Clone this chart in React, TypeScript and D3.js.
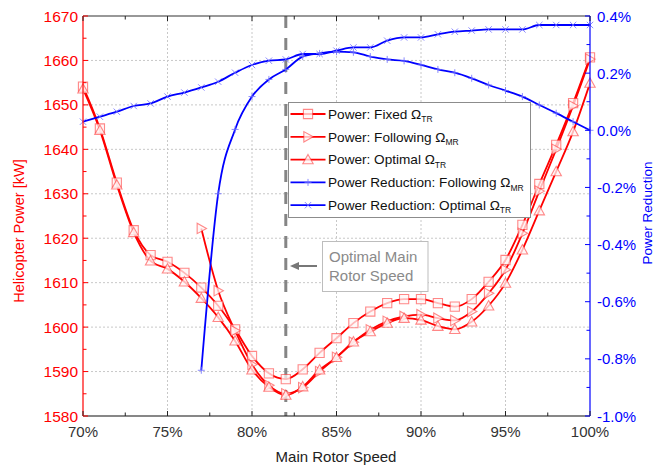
import React from 'react';
import * as d3 from 'd3';

const speeds = [70, 71, 72, 73, 74, 75, 76, 77, 78, 79, 80, 81, 82, 83, 84, 85, 86, 87, 88, 89, 90, 91, 92, 93, 94, 95, 96, 97, 98, 99, 100];

const powerFixed = [1654.1, 1644.7, 1632.5, 1621.8, 1616.2, 1614.7, 1612.2, 1608.9, 1604.8, 1599.5, 1593.5, 1589.6, 1588.3, 1590.5, 1594.2, 1597.5, 1600.9, 1603.5, 1605.4, 1606.3, 1606.3, 1605.4, 1604.6, 1606.3, 1610.2, 1615.1, 1623.0, 1632.2, 1641.0, 1650.4, 1660.7];

const powerFollowing: (number | null)[] = [null, null, null, null, null, null, null, 1622.2, 1608.2, 1599.2, 1591.6, 1586.9, 1585.0, 1586.4, 1590.0, 1593.2, 1596.6, 1599.4, 1601.3, 1602.4, 1602.8, 1602.0, 1601.5, 1603.5, 1607.6, 1612.9, 1621.1, 1630.6, 1640.0, 1649.8, 1660.3];

const powerOptimal = [1653.6, 1644.3, 1632.0, 1621.3, 1614.9, 1613.1, 1610.2, 1606.5, 1602.2, 1596.9, 1590.4, 1586.5, 1584.7, 1586.6, 1590.4, 1593.2, 1596.7, 1599.0, 1600.9, 1602.0, 1601.6, 1600.2, 1599.5, 1601.2, 1604.8, 1609.9, 1617.4, 1626.2, 1635.0, 1644.0, 1654.9];

const reductionFollowing: (number | null)[] = [null, null, null, null, null, null, null, -0.84, -0.222, 0.003, 0.118, 0.178, 0.213, 0.258, 0.269, 0.275, 0.273, 0.258, 0.248, 0.243, 0.229, 0.213, 0.2015, 0.182, 0.1585, 0.139, 0.118, 0.0885, 0.06, 0.03, 0.0];

const reductionOptimal = [0.03, 0.0475, 0.065, 0.085, 0.094, 0.118, 0.132, 0.15, 0.17, 0.2015, 0.2285, 0.2435, 0.248, 0.267, 0.267, 0.2786, 0.29, 0.29, 0.3136, 0.325, 0.325, 0.336, 0.345, 0.349, 0.353, 0.353, 0.353, 0.3685, 0.3685, 0.3685, 0.3685];

const xTicks = [70, 75, 80, 85, 90, 95, 100];
const xMinorTicks = [72.5, 77.5, 82.5, 87.5, 92.5, 97.5];
const leftTicks = [1580, 1590, 1600, 1610, 1620, 1630, 1640, 1650, 1660, 1670];
const leftMinorTicks = [1585, 1595, 1605, 1615, 1625, 1635, 1645, 1655, 1665];
const rightTicks = [-1.0, -0.8, -0.6, -0.4, -0.2, 0.0, 0.2, 0.4];
const rightMinorTicks = [-0.9, -0.7, -0.5, -0.3, -0.1, 0.1, 0.3];
const optimalSpeed = 82;

const FONT = '"Liberation Sans", Arial, sans-serif';
const RED = '#ff0000';
const BLUE = '#0000ff';
const MRED = 'rgba(255,40,40,0.55)';
const MFILL = 'rgba(255,245,245,0.75)';
const MBLUE = 'rgba(110,110,255,0.8)';

type Shape = 'square' | 'right' | 'up' | 'plus' | 'cross';

function markerPath(shape: Shape, cx: number, cy: number): string {
  const p = d3.path();
  if (shape === 'square') {
    const s = 4.6;
    p.rect(cx - s, cy - s, 2 * s, 2 * s);
  } else if (shape === 'up') {
    const s = 5.2;
    p.moveTo(cx, cy - s);
    p.lineTo(cx + s, cy + s * 0.8);
    p.lineTo(cx - s, cy + s * 0.8);
    p.closePath();
  } else if (shape === 'right') {
    const s = 5.2;
    p.moveTo(cx + s, cy);
    p.lineTo(cx - s * 0.8, cy - s);
    p.lineTo(cx - s * 0.8, cy + s);
    p.closePath();
  } else if (shape === 'plus') {
    const s = 3.5;
    p.moveTo(cx - s, cy);
    p.lineTo(cx + s, cy);
    p.moveTo(cx, cy - s);
    p.lineTo(cx, cy + s);
  } else {
    const s = 3.2;
    p.moveTo(cx - s, cy - s);
    p.lineTo(cx + s, cy + s);
    p.moveTo(cx - s, cy + s);
    p.lineTo(cx + s, cy - s);
  }
  return p.toString();
}

function markerProps(shape: Shape) {
  if (shape === 'plus' || shape === 'cross') {
    return { fill: 'none', stroke: MBLUE, strokeWidth: 1 };
  }
  return { fill: MFILL, stroke: MRED, strokeWidth: 1.1 };
}

export default function App() {
  const W = 657;
  const H = 470;
  const x0 = 83, x1 = 590, y0 = 16, y1 = 416;

  const x = d3.scaleLinear().domain([70, 100]).range([x0, x1]);
  const yL = d3.scaleLinear().domain([1580, 1670]).range([y1, y0]);
  const yR = d3.scaleLinear().domain([-1.0, 0.4]).range([y1, y0]);

  const mkLine = (vals: (number | null)[], sc: d3.ScaleLinear<number, number>) =>
    d3
      .line<number>()
      .defined((_, i) => vals[i] !== null)
      .x((d) => x(d))
      .y((_, i) => sc(vals[i] as number))
      .curve(d3.curveMonotoneX)(speeds) || '';

  const series: { vals: (number | null)[]; sc: any; color: string; shape: Shape }[] = [
    { vals: powerFixed, sc: yL, color: RED, shape: 'square' },
    { vals: powerFollowing, sc: yL, color: RED, shape: 'right' },
    { vals: powerOptimal, sc: yL, color: RED, shape: 'up' },
    { vals: reductionFollowing, sc: yR, color: BLUE, shape: 'plus' },
    { vals: reductionOptimal, sc: yR, color: BLUE, shape: 'cross' },
  ];

  const legendItems: { label: string; sub: string; color: string; shape: Shape }[] = [
    { label: 'Power: Fixed Ω', sub: 'TR', color: RED, shape: 'square' },
    { label: 'Power: Following Ω', sub: 'MR', color: RED, shape: 'right' },
    { label: 'Power: Optimal Ω', sub: 'TR', color: RED, shape: 'up' },
    { label: 'Power Reduction: Following Ω', sub: 'MR', color: BLUE, shape: 'plus' },
    { label: 'Power Reduction: Optimal Ω', sub: 'TR', color: BLUE, shape: 'cross' },
  ];

  const lgX = 288.5, lgY = 102.5, lgW = 242, lgH = 115, lgRow = 22.8;

  return (
    <svg
      width={W}
      height={H}
      style={{ position: 'absolute', left: 0, top: 0, background: '#fff' }}
      fontFamily={FONT}
    >
      <rect x={0} y={0} width={W} height={H} fill="#fff" />
      {/* grid */}
      <g stroke="#c8c8c8" strokeWidth={1} strokeDasharray="2,2">
        {xTicks.filter((t) => t > 70 && t < 100).map((t) => (
          <line key={'gx' + t} x1={x(t)} x2={x(t)} y1={y0} y2={y1} />
        ))}
        {leftTicks.filter((t) => t > 1580 && t < 1670).map((t) => (
          <line key={'gy' + t} x1={x0} x2={x1} y1={yL(t)} y2={yL(t)} />
        ))}
      </g>

      {/* optimal speed dashed line */}
      <line
        x1={x(optimalSpeed)}
        x2={x(optimalSpeed)}
        y1={y0}
        y2={y1}
        stroke="#858585"
        strokeWidth={3}
        strokeDasharray="12,10"
      />

      {/* series lines */}
      {series.map((s, i) => (
        <path key={'l' + i} d={mkLine(s.vals, s.sc)} fill="none" stroke={s.color} strokeWidth={1.8} />
      ))}
      {/* markers */}
      {series.map((s, i) => (
        <g key={'m' + i}>
          {speeds.map((sp, j) =>
            s.vals[j] === null ? null : (
              <path key={j} d={markerPath(s.shape, x(sp), s.sc(s.vals[j] as number))} {...markerProps(s.shape)} />
            )
          )}
        </g>
      ))}

      {/* axes frame */}
      <line x1={x0} x2={x1} y1={y0} y2={y0} stroke="#333" strokeWidth={1.2} />
      <line x1={x0} x2={x1} y1={y1} y2={y1} stroke="#111" strokeWidth={1.2} />
      <line x1={x0} x2={x0} y1={y0} y2={y1} stroke={RED} strokeWidth={1.2} />
      <line x1={x1} x2={x1} y1={y0} y2={y1} stroke={BLUE} strokeWidth={1.2} />

      {/* x ticks */}
      <g stroke="#222" strokeWidth={1}>
        {xTicks.map((t) => (
          <g key={'xt' + t}>
            <line x1={x(t)} x2={x(t)} y1={y1} y2={y1 - 5} />
            <line x1={x(t)} x2={x(t)} y1={y0} y2={y0 + 5} />
          </g>
        ))}
        {xMinorTicks.map((t) => (
          <g key={'xm' + t}>
            <line x1={x(t)} x2={x(t)} y1={y1} y2={y1 - 3.5} />
            <line x1={x(t)} x2={x(t)} y1={y0} y2={y0 + 3.5} />
          </g>
        ))}
      </g>
      <g fill="#333" fontSize={15} textAnchor="middle">
        {xTicks.map((t) => (
          <text key={'xl' + t} x={x(t)} y={437}>
            {t + '%'}
          </text>
        ))}
      </g>
      <text x={336} y={462} fontSize={15} fill="#222" textAnchor="middle">
        Main Rotor Speed
      </text>

      {/* left axis */}
      <g stroke={RED} strokeWidth={1}>
        {leftTicks.map((t) => (
          <line key={'lt' + t} x1={x0} x2={x0 + 5} y1={yL(t)} y2={yL(t)} />
        ))}
        {leftMinorTicks.map((t) => (
          <line key={'lm' + t} x1={x0} x2={x0 + 3.5} y1={yL(t)} y2={yL(t)} />
        ))}
      </g>
      <g fill={RED} fontSize={15.5} textAnchor="end">
        {leftTicks.map((t) => (
          <text key={'ll' + t} x={78} y={yL(t) + 5.5}>
            {t}
          </text>
        ))}
      </g>
      <text
        transform={`translate(24,231) rotate(-90)`}
        fontSize={14.5}
        fill={RED}
        textAnchor="middle"
      >
        Helicopter Power [kW]
      </text>

      {/* right axis */}
      <g stroke={BLUE} strokeWidth={1}>
        {rightTicks.map((t) => (
          <line key={'rt' + t} x1={x1} x2={x1 - 5} y1={yR(t)} y2={yR(t)} />
        ))}
        {rightMinorTicks.map((t) => (
          <line key={'rm' + t} x1={x1} x2={x1 - 3.5} y1={yR(t)} y2={yR(t)} />
        ))}
      </g>
      <g fill={BLUE} fontSize={15} textAnchor="start">
        {rightTicks.map((t) => (
          <text key={'rl' + t} x={597} y={yR(t) + 5.5}>
            {t.toFixed(1) + '%'}
          </text>
        ))}
      </g>
      <text
        transform={`translate(652,213) rotate(-90)`}
        fontSize={13.5}
        fill={BLUE}
        textAnchor="middle"
      >
        Power Reduction
      </text>

      {/* annotation */}
      <rect x={322.5} y={241.5} width={105.5} height={50} fill="#fff" stroke="#bdbdbd" strokeWidth={1} />
      <g fill="#8a8a8a" fontSize={15}>
        <text x={329} y={262}>Optimal Main</text>
        <text x={329} y={281}>Rotor Speed</text>
      </g>
      <line x1={317} x2={297} y1={266} y2={266} stroke="#777" strokeWidth={2} />
      <path d={d3.line()([[290, 266], [299, 262], [299, 270]]) + 'Z'} fill="#777" />

      {/* legend */}
      <rect x={lgX} y={lgY} width={lgW} height={lgH} fill="#fff" stroke="#8c8c8c" strokeWidth={1} />
      {legendItems.map((it, i) => {
        const cy = lgY + 11.5 + i * lgRow;
        return (
          <g key={'lg' + i}>
            <line x1={lgX + 2} x2={lgX + 37} y1={cy} y2={cy} stroke={it.color} strokeWidth={1.8} />
            <path d={markerPath(it.shape, lgX + 19.5, cy)} {...markerProps(it.shape)} />
            <text x={lgX + 39.5} y={cy + 4.7} fontSize={13.6} fill="#111">
              {it.label}
              <tspan fontSize={8.5} dy={3.5}>
                {it.sub}
              </tspan>
            </text>
          </g>
        );
      })}
    </svg>
  );
}
